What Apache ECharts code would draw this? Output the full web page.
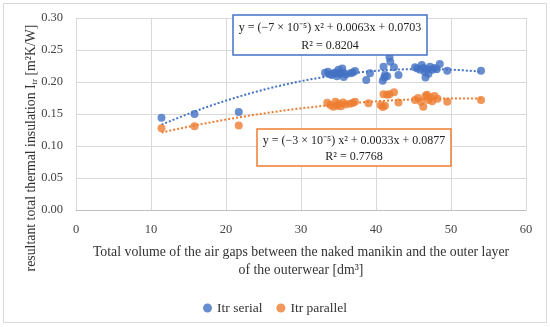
<!DOCTYPE html>
<html><head><meta charset="utf-8">
<script src="https://cdn.jsdelivr.net/npm/echarts@6/dist/echarts.min.js"></script>
<style>html,body{margin:0;padding:0;background:#fff}#c{width:550px;height:327px}</style>
</head><body><div id="c"></div>
<script>
var serialX = [11.4,15.8,21.7,33.2,33.6,33.9,34.1,34.4,34.6,34.8,35.0,35.1,35.3,35.5,35.6,35.7,36.0,36.6,36.9,37.2,38.7,39.2,40.9,41.0,41.1,41.2,41.5,41.8,41.9,42.4,43.0,45.2,45.5,45.9,46.1,46.3,46.5,46.6,46.8,47.0,47.2,47.5,47.8,48.1,48.5,49.5,54.0];
var serialY = [0.144,0.150,0.153,0.2145,0.216,0.212,0.211,0.2136,0.215,0.209,0.219,0.213,0.2136,0.221,0.215,0.208,0.212,0.2136,0.215,0.217,0.203,0.2136,0.202,0.224,0.207,0.211,0.209,0.2385,0.2318,0.223,0.211,0.223,0.221,0.219,0.2266,0.222,0.216,0.207,0.220,0.213,0.224,0.219,0.222,0.220,0.228,0.2177,0.2177];
var parallelX = [11.4,15.8,21.7,33.5,33.9,34.3,34.6,34.8,35.0,35.3,35.6,35.9,36.5,36.9,37.2,39.0,40.6,40.9,41.0,41.2,41.5,41.8,42.4,43.0,45.2,45.6,46.0,46.3,46.6,46.8,47.0,47.2,47.5,47.8,48.2,49.5,54.0];
var parallelY = [0.1277,0.131,0.132,0.1677,0.164,0.1615,0.169,0.163,0.166,0.162,0.168,0.165,0.166,0.167,0.169,0.1667,0.164,0.161,0.181,0.163,0.180,0.181,0.184,0.168,0.172,0.175,0.169,0.1615,0.178,0.180,0.172,0.176,0.170,0.178,0.174,0.169,0.172];
var xTicks = [0,10,20,30,40,50,60];
var yTicks = [0.00,0.05,0.10,0.15,0.20,0.25,0.30];
var eqSerial = ['y = (\u22127 \u00d7 10\u207b\u2075) x\u00b2 + 0.0063x + 0.0703', 'R\u00b2 = 0.8204'];
var eqParallel = ['y = (\u22123 \u00d7 10\u207b\u2075) x\u00b2 + 0.0033x + 0.0877', 'R\u00b2 = 0.7768'];
var seriesNames = ['Itr serial','Itr parallel'];

var BLUE='#4472C4', ORANGE='#ED7D31', FONT='Liberation Serif';

function pairs(xs, ys){ return xs.map(function(x,i){return [x, ys[i]];}); }
function quadFit(xs, ys){
  var n=xs.length,s=[0,0,0,0,0],t=[0,0,0];
  for(var i=0;i<n;i++){var x=xs[i],p=1;for(var k=0;k<5;k++){s[k]+=p;if(k<3)t[k]+=p*ys[i];p*=x;}}
  var A=[[s[0],s[1],s[2],t[0]],[s[1],s[2],s[3],t[1]],[s[2],s[3],s[4],t[2]]];
  for(var c=0;c<3;c++){for(var r=c+1;r<3;r++){var f=A[r][c]/A[c][c];for(var j=c;j<4;j++)A[r][j]-=f*A[c][j];}}
  var b=[0,0,0];
  for(var r2=2;r2>=0;r2--){var v=A[r2][3];for(var j2=r2+1;j2<3;j2++)v-=A[r2][j2]*b[j2];b[r2]=v/A[r2][r2];}
  return b;
}
function trend(xs, ys){
  var b=quadFit(xs,ys), lo=Math.min.apply(null,xs), hi=Math.max.apply(null,xs), out=[];
  for(var i=0;i<=60;i++){var x=lo+(hi-lo)*i/60;out.push([x,b[0]+b[1]*x+b[2]*x*x]);}
  return out;
}

var chart = echarts.init(document.getElementById('c'));
function eqBox(lines, color, x, y, w, h, y1, y2){
  return [
    {type:'rect', z:100, shape:{x:x,y:y,width:w,height:h}, style:{fill:'#fff', stroke:color, lineWidth:1.5}},
    {type:'text', z:101, x:x+w/2, y:y1, style:{text:lines[0], align:'center', verticalAlign:'middle', font:'12px "'+FONT+'"', fill:'#222'}},
    {type:'text', z:101, x:x+w/2, y:y2, style:{text:lines[1], align:'center', verticalAlign:'middle', font:'12px "'+FONT+'"', fill:'#222'}}
  ];
}
var gfx = [
  {type:'rect', shape:{x:3.5, y:3.5, width:543, height:319}, style:{fill:'none', stroke:'#d9d9d9', lineWidth:1}, silent:true},
  {type:'text', x:31, y:148, rotation:Math.PI/2, style:{text:'resultant total thermal insulation I{sub|tr} [m\u00b2K/W]', align:'center', verticalAlign:'middle',
    font:'13.8px "'+FONT+'"', fill:'#333', rich:{sub:{fontSize:9, fontFamily:FONT, fill:'#333', padding:[7,0,0,0]}}}}
].concat(eqBox(eqSerial, BLUE, 233, 15, 194, 40, 28, 46)).concat(eqBox(eqParallel, ORANGE, 257, 129, 194, 37, 140.5, 157));

chart.setOption({
  animation:false,
  textStyle:{fontFamily:FONT},
  grid:{left:76, right:24, top:18, bottom:117},
  legend:{bottom:7, left:'center', itemWidth:9, itemHeight:9, itemGap:14, icon:'circle', data:seriesNames,
    textStyle:{fontFamily:FONT, fontSize:13.5, color:'#333'}},
  xAxis:{type:'value', min:xTicks[0], max:xTicks[xTicks.length-1], interval:10,
    name:'Total volume of the air gaps between the naked manikin and the outer layer\nof the outerwear [dm\u00b3]',
    nameLocation:'middle', nameGap:33, nameTextStyle:{fontFamily:FONT, fontSize:13.8, color:'#333', lineHeight:18},
    axisLine:{lineStyle:{color:'#bfbfbf'}}, axisTick:{show:false},
    axisLabel:{fontFamily:FONT, fontSize:12.5, color:'#444', margin:13},
    splitLine:{lineStyle:{color:'#d9d9d9'}}},
  yAxis:{type:'value', min:yTicks[0], max:yTicks[yTicks.length-1], interval:0.05,
    axisLine:{show:false}, axisTick:{show:false},
    axisLabel:{fontFamily:FONT, fontSize:12.5, color:'#444', margin:13, formatter:function(v){return v.toFixed(2);}},
    splitLine:{lineStyle:{color:'#d9d9d9'}}},
  series:[
    {name:seriesNames[0], type:'scatter', symbolSize:8, itemStyle:{color:BLUE}, data:pairs(serialX,serialY), z:3},
    {name:seriesNames[1], type:'scatter', symbolSize:8, itemStyle:{color:ORANGE}, data:pairs(parallelX,parallelY), z:3},
    {name:'trend1', type:'line', showSymbol:false, silent:true, lineStyle:{color:BLUE,width:2,type:'dotted'}, data:trend(serialX,serialY), z:2},
    {name:'trend2', type:'line', showSymbol:false, silent:true, lineStyle:{color:ORANGE,width:2,type:'dotted'}, data:trend(parallelX,parallelY), z:2}
  ],
  graphic:gfx
});
</script></body></html>
